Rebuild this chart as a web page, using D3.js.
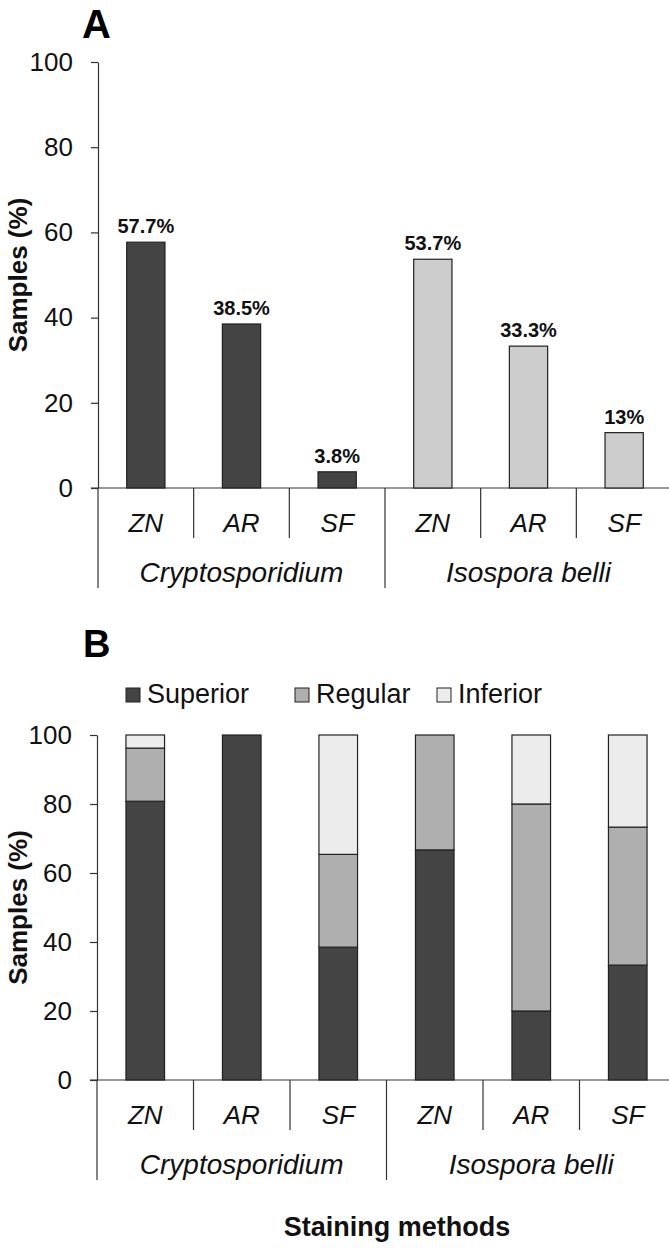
<!DOCTYPE html>
<html>
<head>
<meta charset="utf-8">
<script src="https://cdn.jsdelivr.net/npm/d3@7"></script>
<style>
  body { margin: 0; background: #fff; }
  svg { display: block; font-family: "Liberation Sans", Arial, sans-serif; }
</style>
</head>
<body>
<script>
// data
const species = ["Cryptosporidium", "Isospora belli"];
const methods = ["ZN", "AR", "SF"];
const positive = [57.7, 38.5, 3.8, 53.7, 33.3, 13];   // panel A, % samples
const quality = ["Superior", "Regular", "Inferior"];
const superior = [80.8, 100, 38.5, 66.7, 20, 33.3];  // panel B, % samples
const regular = [15.4, 0, 26.9, 33.3, 60, 40];
const inferior = [3.8, 0, 34.6, 0, 20, 26.7];
const yTicks = [0, 20, 40, 60, 80, 100];

// one entry per bar
let cats = [];
species.forEach(s => methods.forEach(m => cats.push({ key: s + "|" + m, species: s, method: m })));

const dark = "#444444";
const speciesColor = d3.scaleOrdinal().domain(species).range([dark, "#cdcdcd"]);
const qualityColor = d3.scaleOrdinal().domain(quality).range([dark, "#afafaf", "#ececec"]);

let svg = d3.select("body").append("svg")
  .attr("width", 669)
  .attr("height", 1249);

// draws y axis, category axis with separators, y title
function drawFrame(x, y, titleX) {
  let y0 = y(0);
  let left = x.range()[0];

  let ax = svg.append("g")
    .attr("transform", `translate(${left},0)`)
    .call(d3.axisLeft(y).tickValues(yTicks).tickSize(7).tickSizeOuter(0).tickPadding(18));
  ax.selectAll("path, line").attr("stroke", "#333").attr("stroke-width", 1.2);
  ax.selectAll("text").style("font-size", "26px").attr("fill", "#111");

  // horizontal axis line
  svg.append("line")
    .attr("x1", left - 7).attr("x2", 669)
    .attr("y1", y0).attr("y2", y0)
    .attr("stroke", "#333").attr("stroke-width", 1.2);

  // separators, long ones between species
  cats.forEach((c, i) => {
    svg.append("line")
      .attr("x1", x(c.key)).attr("x2", x(c.key))
      .attr("y1", y0).attr("y2", y0 + (i % 3 === 0 ? 100 : 50))
      .attr("stroke", "#333").attr("stroke-width", 1.2);
  });

  // method labels
  svg.selectAll(null)
    .data(cats)
    .enter()
    .append("text")
    .attr("x", d => x(d.key) + x.bandwidth() / 2)
    .attr("y", y0 + 44)
    .attr("text-anchor", "middle")
    .style("font-size", "26px")
    .style("font-style", "italic")
    .attr("fill", "#111")
    .text(d => d.method);

  // species labels
  svg.selectAll(null)
    .data(species)
    .enter()
    .append("text")
    .attr("x", (d, i) => x(cats[i * 3].key) + x.bandwidth() * 1.5)
    .attr("y", y0 + 94)
    .attr("text-anchor", "middle")
    .style("font-size", "28px")
    .style("font-style", "italic")
    .attr("fill", "#111")
    .text(d => d);

  // y title
  let mid = (y.range()[0] + y.range()[1]) / 2;
  svg.append("text")
    .attr("transform", `translate(${titleX},${mid}) rotate(-90)`)
    .attr("text-anchor", "middle")
    .style("font-size", "26px")
    .style("font-weight", "bold")
    .attr("fill", "#111")
    .text("Samples (%)");
}

// ---------- Panel A ----------
let xA = d3.scaleBand().domain(cats.map(d => d.key)).range([98, 672]);
let yA = d3.scaleLinear().domain([0, 100]).range([488, 62]);
let barW = xA.bandwidth() * 0.4;

svg.append("text")
  .attr("x", 82).attr("y", 38)
  .style("font-size", "40px").style("font-weight", "bold")
  .text("A");

drawFrame(xA, yA, 27);

let barsA = svg.selectAll(".barA")
  .data(cats.map((c, i) => ({ ...c, value: positive[i] })))
  .enter()
  .append("g")
  .attr("class", "barA");

barsA.append("rect")
  .attr("x", d => xA(d.key) + (xA.bandwidth() - barW) / 2)
  .attr("y", d => yA(d.value))
  .attr("width", barW)
  .attr("height", d => yA(0) - yA(d.value))
  .attr("fill", d => speciesColor(d.species))
  .attr("stroke", "#222")
  .attr("stroke-width", 1.2);

barsA.append("text")
  .attr("x", d => xA(d.key) + xA.bandwidth() / 2)
  .attr("y", d => yA(d.value) - 9)
  .attr("text-anchor", "middle")
  .style("font-size", "20px")
  .style("font-weight", "bold")
  .attr("fill", "#111")
  .text(d => d.value + "%");

// ---------- Panel B ----------
let xB = d3.scaleBand().domain(cats.map(d => d.key)).range([97, 676]);
let yB = d3.scaleLinear().domain([0, 100]).range([1080, 735]);
let barWB = xB.bandwidth() * 0.4;

svg.append("text")
  .attr("x", 83).attr("y", 657)
  .style("font-size", "38px").style("font-weight", "bold")
  .text("B");

// legend
let legendX = [126, 295, 437];
let legend = svg.selectAll(".legend")
  .data(quality)
  .enter()
  .append("g")
  .attr("class", "legend")
  .attr("transform", (d, i) => `translate(${legendX[i]},688)`);

legend.append("rect")
  .attr("width", 14).attr("height", 14)
  .attr("fill", d => qualityColor(d))
  .attr("stroke", "#222");

legend.append("text")
  .attr("x", 21).attr("y", 15)
  .style("font-size", "27px")
  .attr("fill", "#111")
  .text(d => d);

drawFrame(xB, yB, 27);

let tableB = cats.map((c, i) => ({
  key: c.key,
  Superior: superior[i],
  Regular: regular[i],
  Inferior: inferior[i]
}));
let stacked = d3.stack().keys(quality)(tableB);

svg.selectAll(".layer")
  .data(stacked)
  .enter()
  .append("g")
  .attr("class", "layer")
  .attr("fill", d => qualityColor(d.key))
  .selectAll("rect")
  .data(d => d.filter(s => s[1] - s[0] > 0))
  .enter()
  .append("rect")
  .attr("x", d => xB(d.data.key) + (xB.bandwidth() - barWB) / 2)
  .attr("y", d => yB(d[1]))
  .attr("width", barWB)
  .attr("height", d => yB(d[0]) - yB(d[1]))
  .attr("stroke", "#222")
  .attr("stroke-width", 1.2);

svg.append("text")
  .attr("x", 397).attr("y", 1236)
  .attr("text-anchor", "middle")
  .style("font-size", "27px")
  .style("font-weight", "bold")
  .attr("fill", "#111")
  .text("Staining methods");
</script>
</body>
</html>
